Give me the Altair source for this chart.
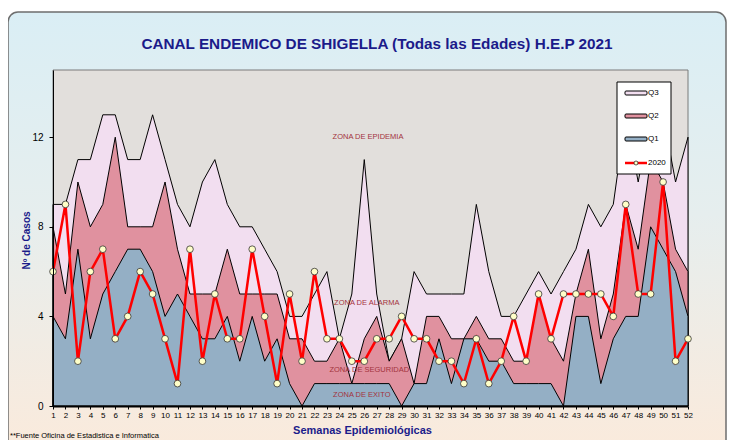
import altair as alt
import pandas as pd

weeks = list(range(1, 53))
q1 = [4, 3, 7, 3, 5, 6, 7, 7, 6, 4, 5, 4, 3, 3, 4, 2, 4, 2, 3, 1, 0, 1, 1, 1, 1, 1,
      1, 1, 0, 1, 1, 3, 1, 3, 3, 2, 2, 1, 1, 1, 1, 0, 4, 4, 1, 3, 4, 4, 8, 7, 6, 4]
q2 = [8, 5, 10, 8, 9, 12, 8, 8, 8, 10, 7, 5, 5, 5, 7, 5, 5, 5, 5, 3, 3, 2, 2, 3, 1, 3,
      4, 2, 3, 1, 4, 4, 3, 3, 4, 3, 3, 2, 2, 5, 3, 2, 5, 7, 3, 5, 9, 7, 11, 10, 7, 6]
q3 = [9, 9, 11, 11, 13, 13, 11, 11, 13, 11, 9, 8, 10, 11, 9, 8, 8, 7, 6, 4, 4, 5, 6, 3, 5, 11,
      5, 2, 3, 6, 5, 5, 5, 5, 9, 6, 4, 4, 5, 6, 5, 6, 7, 9, 8, 9, 13, 10, 13, 13, 10, 12]
y2020 = [6, 9, 2, 6, 7, 3, 4, 6, 5, 3, 1, 7, 2, 5, 3, 3, 7, 4, 1, 5, 2, 6, 3, 3, 2, 2,
         3, 3, 4, 3, 3, 2, 2, 1, 3, 1, 2, 4, 2, 5, 3, 5, 5, 5, 5, 4, 9, 5, 5, 10, 2, 3]

series_names = ["Q3", "Q2", "Q1", "2020"]
series_colors = ["#F2DEF0", "#E0919F", "#94AFC5", "#FF0000"]

zone_labels = ["ZONA DE EPIDEMIA", "ZONA DE ALARMA", "ZONA DE SEGURIDAD", "ZONA DE EXITO"]
zone_weeks = [26.3, 26.2, 26.4, 25.8]
zone_values = [12.0, 4.6, 1.6, 0.5]

title_text = "CANAL ENDEMICO DE SHIGELLA (Todas las Edades) H.E.P 2021"
footnote_text = "**Fuente Oficina de Estadistica e Informatica"

W, H = 635, 336
NAVY = "#1B1B8A"
NARROW = "Liberation Sans Narrow, Liberation Sans, Arial"
POINT_FILL = "#FFFFC8"

df = pd.concat([
    pd.DataFrame({"week": weeks, "value": q3, "series": "Q3"}),
    pd.DataFrame({"week": weeks, "value": q2, "series": "Q2"}),
    pd.DataFrame({"week": weeks, "value": q1, "series": "Q1"}),
    pd.DataFrame({"week": weeks, "value": y2020, "series": "2020"}),
])

color = alt.Color("series:N", scale=alt.Scale(domain=series_names, range=series_colors), legend=None)

x = alt.X("week:Q", scale=alt.Scale(domain=[1, 52], nice=False, zero=False),
          axis=alt.Axis(values=weeks, format="d", labelFontSize=8, labelFont=NARROW,
                        labelColor="black", tickSize=3, tickColor="black", domainColor="black",
                        domainWidth=2, labelFlush=False, labelOverlap=False, labelPadding=2,
                        grid=False, title="Semanas Epidemiológicas", titleFont="Liberation Sans",
                        titleFontSize=11, titleFontWeight="bold", titleColor=NAVY,
                        titleX=309, titleY=24, titleBaseline="middle", zindex=1))
y = alt.Y("value:Q", scale=alt.Scale(domain=[0, 15], nice=False),
          axis=alt.Axis(values=[0, 4, 8, 12], labelFontSize=10, labelFont="Liberation Sans",
                        labelColor="black", tickSize=4, tickColor="black", domainColor="black",
                        domainWidth=1, labelPadding=6, grid=False, title="Nº de Casos",
                        titleFont="Liberation Sans", titleFontSize=10, titleFontWeight="bold",
                        titleColor=NAVY, titleX=-27, titleY=170, titleBaseline="middle", zindex=1))

one = pd.DataFrame({"t": [0]})
bg = alt.Chart(one).mark_rect(
    fill=alt.LinearGradient(gradient="linear", x1=0, x2=0, y1=0, y2=1,
                            stops=[alt.GradientStop(offset=0, color="#DAEEF5"),
                                   alt.GradientStop(offset=0.45, color="#E6EEEE"),
                                   alt.GradientStop(offset=1, color="#FBEADB")]),
    stroke="#6E6E6E", strokeWidth=1.5, cornerRadius=10,
).encode(x=alt.value(-45), x2=alt.value(673), y=alt.value(-58), y2=alt.value(390))

plotbg = alt.Chart(one).mark_rect(fill="#E2DFDC", stroke="#7A7A7A", strokeWidth=1).encode(
    x=alt.value(0), x2=alt.value(W), y=alt.value(0), y2=alt.value(H))

base = alt.Chart(df)
areas = [
    base.transform_filter(f"datum.series === '{s}'").mark_area(
        stroke="black", strokeWidth=1, opacity=1).encode(x=x, y=y, color=color)
    for s in ["Q3", "Q2", "Q1"]
]
line = base.transform_filter("datum.series === '2020'").mark_line(strokeWidth=2.5).encode(
    x=x, y=y, color=color)
pts = base.transform_filter("datum.series === '2020'").mark_point(
    shape="circle", fill=POINT_FILL, stroke="#333333", strokeWidth=0.8, size=45,
    opacity=1, fillOpacity=1).encode(x=x, y=y)

zones = alt.Chart(pd.DataFrame({"label": zone_labels, "week": zone_weeks, "value": zone_values})
                  ).mark_text(fontSize=7.5, font="Liberation Sans", color="#A3333D").encode(
    x=x, y=y, text="label:N")

# ---- legend (drawn as a small box of swatches) ----
LX, LY, LW, LH = 564, 12, 54, 92
row_y = [23, 46, 69, 93]
leg = [alt.Chart(one).mark_rect(fill="white", stroke="black", strokeWidth=1).encode(
    x=alt.value(LX), x2=alt.value(LX + LW), y=alt.value(LY), y2=alt.value(LY + LH))]
for name, col, ry in zip(series_names, series_colors, row_y):
    if name != "2020":
        leg.append(alt.Chart(one).mark_rect(fill=col, stroke="black", strokeWidth=1,
                                             cornerRadius=1).encode(
            x=alt.value(LX + 8), x2=alt.value(LX + 30), y=alt.value(ry - 2), y2=alt.value(ry + 2)))
    else:
        leg.append(alt.Chart(one).mark_rule(color=col, strokeWidth=2.5).encode(
            x=alt.value(LX + 8), x2=alt.value(LX + 30), y=alt.value(ry)))
        leg.append(alt.Chart(one).mark_point(shape="circle", fill=POINT_FILL, stroke="#333333",
                                              strokeWidth=0.8, size=16, opacity=1).encode(
            x=alt.value(LX + 19), y=alt.value(ry)))
    leg.append(alt.Chart(pd.DataFrame({"t": [name]})).mark_text(
        fontSize=8, font=NARROW, color="black", align="left", baseline="middle").encode(
        text="t:N", x=alt.value(LX + 31), y=alt.value(ry)))

title = alt.Chart(pd.DataFrame({"t": [title_text]})).mark_text(
    fontSize=15.3, fontWeight="bold", font="Liberation Sans", color=NAVY, baseline="middle"
).encode(text="t:N", x=alt.value(324), y=alt.value(-26))

foot = alt.Chart(pd.DataFrame({"t": [footnote_text]})).mark_text(
    fontSize=7.5, font=NARROW, color="black", align="left", baseline="middle"
).encode(text="t:N", x=alt.value(-43), y=alt.value(366))

chart = alt.layer(bg, plotbg, *areas, zones, line, pts, *leg, title, foot).properties(
    width=W, height=H,
    autosize=alt.AutoSizeParams(type="none"),
    padding={"left": 45, "top": 62, "right": 39, "bottom": 34},
).configure_view(stroke=None)

chart.save("out.html", embed_options={"renderer": "svg", "actions": False})
